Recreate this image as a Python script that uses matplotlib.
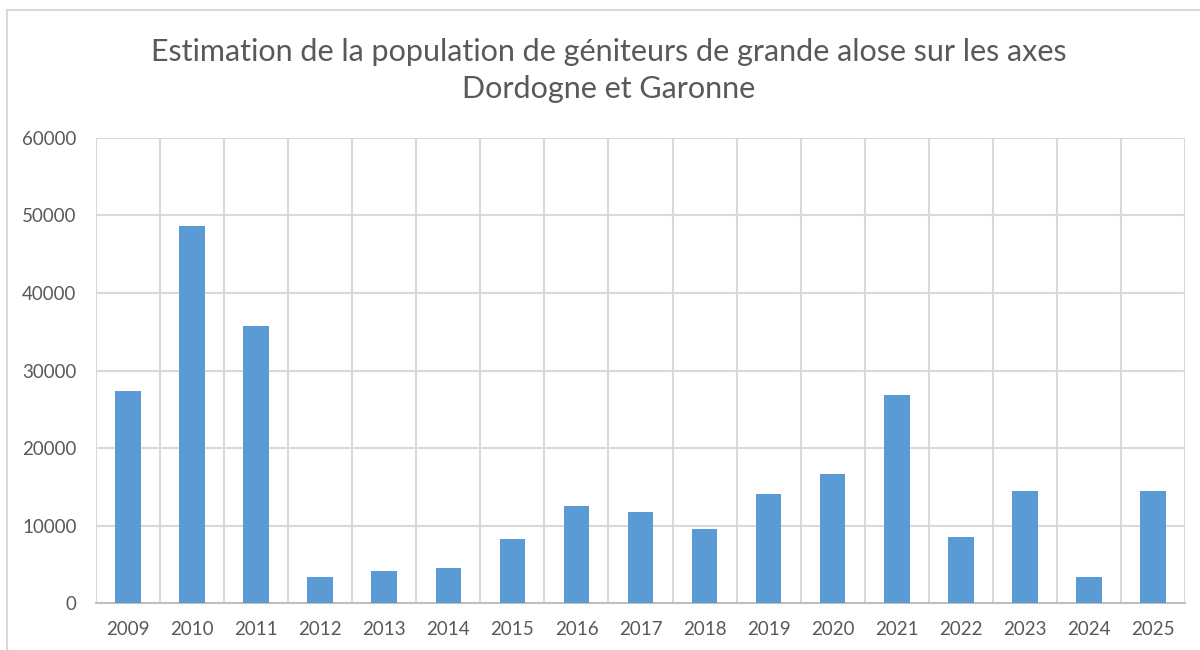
import matplotlib
matplotlib.use("Agg")
import matplotlib.pyplot as plt
import numpy as np
from matplotlib.patches import Rectangle

years = ["2009", "2010", "2011", "2012", "2013", "2014", "2015", "2016", "2017",
         "2018", "2019", "2020", "2021", "2022", "2023", "2024", "2025"]
geniteurs = [27300, 48600, 35700, 3400, 4100, 4550, 8200, 12500, 11700,
             9500, 14100, 16600, 26800, 8500, 14400, 3300, 14500]
y_ticks = [0, 10000, 20000, 30000, 40000, 50000, 60000]

title = "Estimation de la population de géniteurs de grande alose sur les axes\nDordogne et Garonne"

plt.rcParams['font.family'] = ['Lato', 'DejaVu Sans']

fig = plt.figure(figsize=(12, 6.5), dpi=100)
ax = fig.add_axes([0.08, 0.0723, 0.9075, 0.7154])

x = np.arange(len(years))
ax.bar(x, geniteurs, width=0.4, color="#5B9BD5", zorder=3)

ax.set_xlim(-0.5, len(years) - 0.5)
ax.set_ylim(0, 60000)
ax.set_yticks(y_ticks)
ax.set_xticks(x, years)
# vertical gridlines sit between categories, like Excel
ax.set_xticks(np.arange(-0.5, len(years), 1), minor=True)
ax.grid(axis="y", which="major", color="#D9D9D9", linewidth=1.5, zorder=0)
ax.grid(axis="x", which="minor", color="#D9D9D9", linewidth=1.5, zorder=0)
ax.tick_params(axis="both", which="both", length=0, labelsize=13.5, colors="#595959")
ax.tick_params(axis="x", pad=13)
ax.tick_params(axis="y", pad=14)

for side in ["top", "right", "left"]:
    ax.spines[side].set_visible(False)
ax.spines["bottom"].set_color("#BFBFBF")
ax.spines["bottom"].set_linewidth(1.5)

fig.text(0.507, 0.892, title, ha="center", va="center", fontsize=22,
         color="#595959", linespacing=1.4)

# light chart-area frame
fig.patches.append(Rectangle((0.006, -0.05), 1.2, 1.034, transform=fig.transFigure,
                             fill=False, edgecolor="#D9D9D9", linewidth=1.5))

fig.savefig("out.png", dpi=100)
